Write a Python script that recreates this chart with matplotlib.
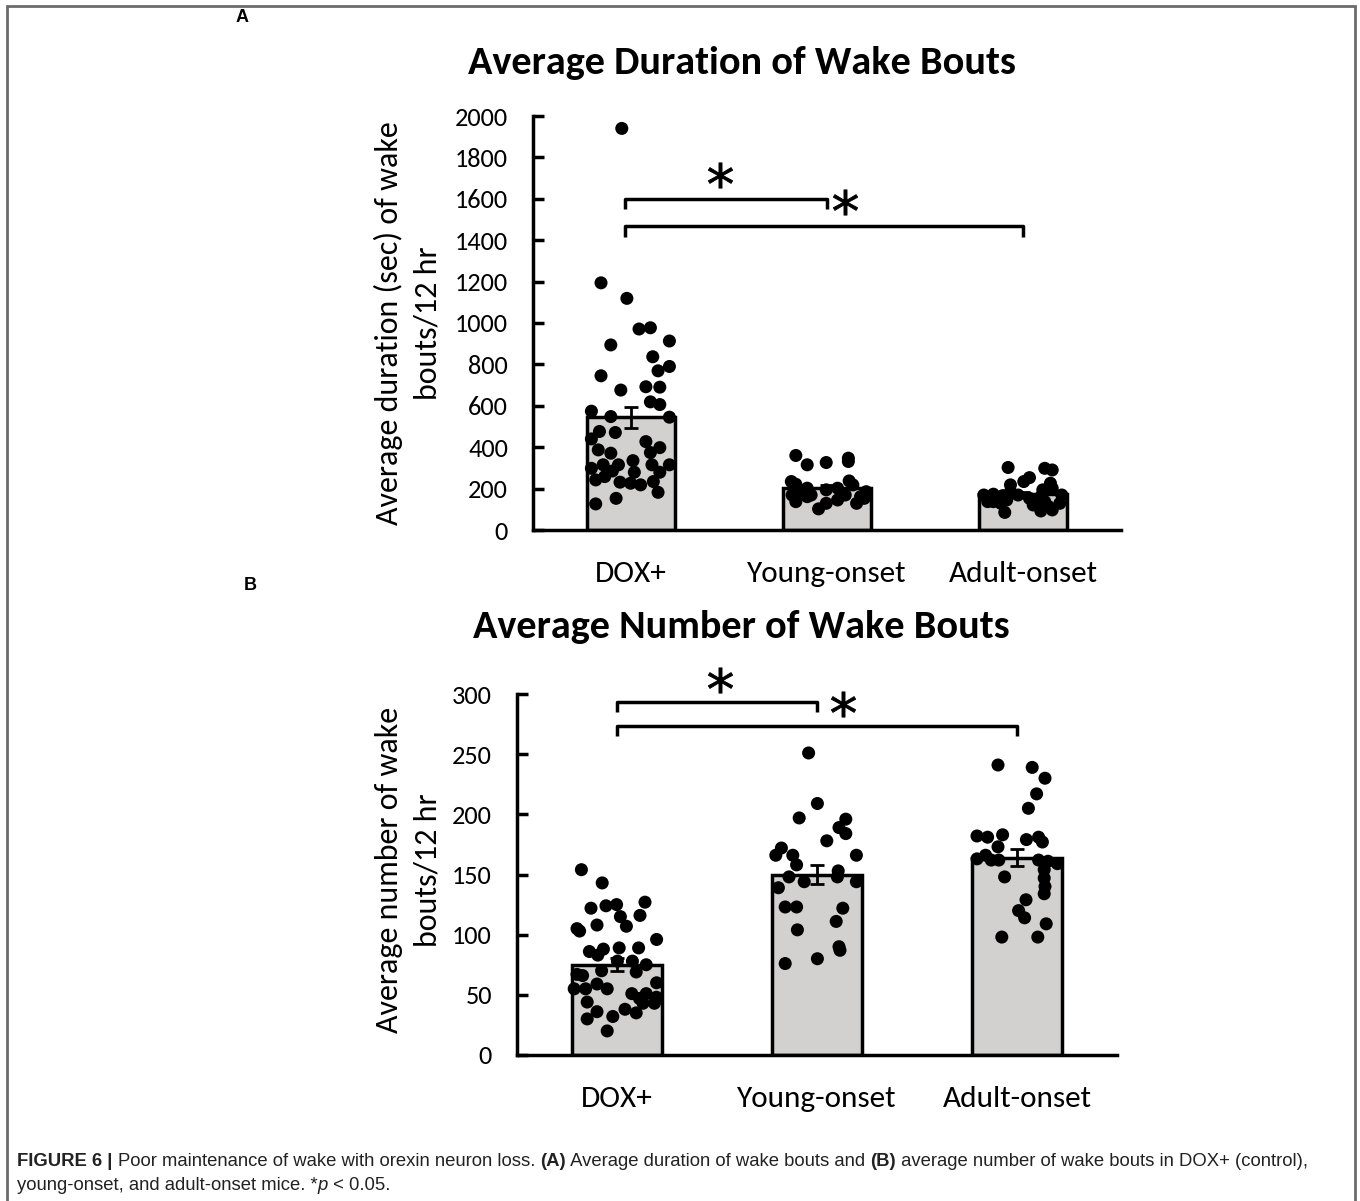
"""Bar + dot plots of wake bout duration and number (Figure 6 style)."""

import matplotlib
matplotlib.use("Agg")
import matplotlib.pyplot as plt
from matplotlib import font_manager
from matplotlib.patches import Rectangle

groups = ["DOX+", "Young-onset", "Adult-onset"]

# panel A: average duration (sec) of wake bouts / 12 hr
dur_mean = [545, 205, 175]
dur_err = [50, 12, 10]
dur_dox = [1940, 1194, 1119, 971, 977, 894, 913, 837, 769, 790, 745, 676, 692,
           690, 619, 606, 574, 548, 545, 476, 471, 440, 427, 387, 398, 371,
           374, 315, 315, 335, 315, 315, 298, 285, 279, 279, 258, 242, 231,
           226, 218, 234, 182, 153, 126]
dur_dox_dx = [-0.047, -0.153, -0.021, 0.041, 0.099, -0.103, 0.196, 0.111,
              0.138, 0.196, -0.153, -0.052, 0.076, 0.147, 0.099, 0.147,
              -0.202, -0.103, 0.196, -0.161, -0.080, -0.202, 0.076, -0.167,
              0.147, -0.103, 0.099, -0.142, -0.064, 0.010, 0.107, 0.196,
              -0.202, -0.095, 0.017, 0.147, -0.134, -0.180, -0.056, -0.002,
              0.049, 0.114, 0.138, -0.076, -0.180]
dur_young = [360, 315, 326, 347, 331, 234, 221, 202, 237, 218, 185, 194, 202,
             185, 169, 169, 169, 161, 137, 145, 129, 129, 102, 161, 153]
dur_young_dx = [-0.159, -0.101, -0.004, 0.109, 0.109, -0.182, -0.159, -0.101,
                0.113, 0.132, -0.140, -0.004, 0.054, 0.200, -0.178, -0.081,
                0.093, 0.171, -0.159, 0.054, -0.004, 0.151, -0.043, -0.101,
                0.190]
dur_adult = [302, 298, 290, 253, 234, 218, 226, 169, 173, 166, 185, 194, 202,
             137, 145, 153, 161, 169, 85, 92, 113, 129, 169, 121, 137, 97,
             129, 137]
dur_adult_dx = [-0.076, 0.111, 0.149, 0.033, 0.004, -0.064, 0.140, -0.200,
                -0.151, -0.103, -0.064, 0.101, 0.149, -0.180, -0.083, 0.033,
                0.091, 0.198, -0.093, 0.091, 0.130, 0.188, -0.025, 0.052,
                0.111, 0.149, -0.113, -0.151]

# panel B: average number of wake bouts / 12 hr
num_mean = [75, 150, 164]
num_err = [5.5, 8, 7]
num_dox = [154, 143, 122, 124, 125, 127, 115, 116, 107, 108, 105, 103, 96, 86,
           88, 89, 89, 83, 78, 78, 75, 69, 70, 67, 66, 55, 55, 59, 55, 60, 51,
           51, 47, 43, 44, 38, 35, 36, 32, 30, 20, 43, 48]
num_dox_dx = [-0.178, -0.074, -0.130, -0.055, -0.002, 0.140, 0.017, 0.115,
              0.047, -0.100, -0.200, -0.187, 0.198, -0.138, -0.068, 0.011,
              0.108, -0.096, 0.002, 0.077, 0.146, 0.096, -0.077, -0.200,
              -0.172, -0.214, -0.157, -0.100, -0.049, 0.198, 0.074, 0.146,
              0.112, 0.187, -0.149, 0.040, 0.096, -0.100, -0.021, -0.149,
              -0.049, 0.130, 0.197]
num_young = [251, 209, 197, 196, 189, 184, 178, 172, 166, 166, 166, 158, 148,
             144, 153, 148, 144, 139, 123, 123, 122, 111, 104, 90, 87, 76, 80]
num_young_dx = [-0.042, 0.002, -0.089, 0.144, 0.110, 0.144, 0.049, -0.178,
                -0.206, -0.121, 0.197, -0.102, -0.140, -0.064, 0.106, 0.102,
                0.197, -0.193, -0.159, -0.102, 0.129, 0.096, -0.098, 0.110,
                0.115, -0.159, 0.002]
num_adult = [241, 239, 230, 217, 205, 182, 181, 183, 179, 181, 177, 173, 166,
             162, 162, 161, 159, 154, 148, 147, 140, 134, 129, 120, 114, 109,
             98, 98, 163, 162]
num_adult_dx = [-0.095, 0.076, 0.140, 0.098, 0.057, -0.200, -0.147, -0.072,
                0.047, 0.108, 0.127, -0.095, -0.157, -0.091, 0.108, 0.155,
                0.202, 0.136, -0.062, 0.136, 0.140, 0.136, 0.045, 0.008,
                0.038, 0.146, -0.076, 0.104, -0.200, -0.129]

_names = {f.name for f in font_manager.fontManager.ttflist}
FONT = "Carlito" if "Carlito" in _names else "Lato"
CAP_FONT = "Liberation Sans Narrow" if "Liberation Sans Narrow" in _names else "Liberation Sans"

BAR_COLOR = "#d3d0d0"
W, H = 1360, 1201


def draw_panel(ax, means, errs, points, ymax, ystep, brackets, stars):
    x = range(len(groups))
    ax.bar(x, means, width=0.45, color=BAR_COLOR, edgecolor="black",
           linewidth=2.5, zorder=1)
    for i, (vals, dx) in enumerate(points):
        ax.scatter([i + d for d in dx], vals, s=88, color="black",
                   edgecolors="none", zorder=3, clip_on=False)
    ax.errorbar(x, means, yerr=errs, fmt="none", ecolor="black",
                elinewidth=2, capsize=5, capthick=2, zorder=4)
    ax.set_xlim(-0.5, 2.5)
    ax.set_ylim(0, ymax)
    ax.set_yticks(range(0, ymax + 1, ystep))
    ax.set_xticks(list(x))
    ax.set_xticklabels(groups, fontsize=22.5, fontfamily=FONT)
    for lbl in ax.get_yticklabels():
        lbl.set_fontsize(19)
        lbl.set_fontfamily(FONT)
    ax.tick_params(axis="x", length=0, pad=22)
    ax.tick_params(axis="y", direction="in", length=8, width=2.5, pad=18)
    for side in ("top", "right"):
        ax.spines[side].set_visible(False)
    for side in ("left", "bottom"):
        ax.spines[side].set_linewidth(2.5)
    for x0, x1, yb, h in brackets:
        ax.plot([x0, x0, x1, x1], [yb - h, yb, yb, yb - h], color="black",
                linewidth=2.5, solid_capstyle="butt", zorder=2, clip_on=False)
    sx, sy = zip(*stars)
    ax.scatter(sx, sy, marker="$*$", s=330, color="black", linewidths=0.6,
               zorder=5, clip_on=False)


fig = plt.figure(figsize=(13.6, 12.01), dpi=100)

ax_a = fig.add_axes([533 / W, 1 - 530 / H, 588 / W, 414 / H])
draw_panel(ax_a, dur_mean, dur_err,
           [(dur_dox, dur_dox_dx), (dur_young, dur_young_dx),
            (dur_adult, dur_adult_dx)],
           2000, 200,
           [(-0.03, 1.0, 1600, 50), (-0.03, 2.0, 1470, 55)],
           [(0.454, 1717), (1.092, 1584)])

ax_b = fig.add_axes([517 / W, 1 - 1055 / H, 600 / W, 361 / H])
draw_panel(ax_b, num_mean, num_err,
           [(num_dox, num_dox_dx), (num_young, num_young_dx),
            (num_adult, num_adult_dx)],
           300, 50,
           [(0.0, 1.0, 293, 8), (0.0, 2.0, 273, 8)],
           [(0.515, 312), (1.13, 292)])

# titles and y labels placed in figure pixels
fig.text(742 / W, 1 - 63 / H, "Average Duration of Wake Bouts", fontsize=29,
         fontweight="bold", fontfamily=FONT, ha="center", va="center")
fig.text(741 / W, 1 - 627 / H, "Average Number of Wake Bouts", fontsize=29,
         fontweight="bold", fontfamily=FONT, ha="center", va="center")
fig.text(408 / W, 1 - 323 / H, "Average duration (sec) of wake\nbouts/12 hr",
         fontsize=23, fontfamily=FONT, rotation=90, ha="center", va="center",
         linespacing=1.45)
fig.text(408 / W, 1 - 870 / H, "Average number of wake\nbouts/12 hr",
         fontsize=23, fontfamily=FONT, rotation=90, ha="center", va="center",
         linespacing=1.45)

# panel letters
fig.text(242 / W, 1 - 18 / H, "A", fontsize=13, fontweight="bold",
         fontfamily="Liberation Sans", ha="center", va="center")
fig.text(250 / W, 1 - 585 / H, "B", fontsize=13, fontweight="bold",
         fontfamily="Liberation Sans", ha="center", va="center")

# frame around the figure
fig.patches.append(Rectangle((7 / W, -0.01), 1348 / W, 1 - 6 / H + 0.01,
                             transform=fig.transFigure, fill=False,
                             edgecolor="#6b6b6b", linewidth=2))

# caption with mixed bold runs
caption = [
    [("FIGURE 6 | ", "bold"), ("Poor maintenance of wake with orexin neuron loss. ", "normal"),
     ("(A)", "bold"), (" Average duration of wake bouts and ", "normal"), ("(B)", "bold"),
     (" average number of wake bouts in DOX+ (control),", "normal")],
    [("young-onset, and adult-onset mice. *", "normal"), ("p", "italic"),
     (" < 0.05.", "normal")],
]
renderer = fig.canvas.get_renderer()
for row, ypix in zip(caption, (1162, 1186)):
    xpix = 17
    for txt, style in row:
        t = fig.text(xpix / W, 1 - ypix / H, txt, fontsize=13.3,
                     fontfamily=CAP_FONT, va="center", ha="left",
                     fontweight="bold" if style == "bold" else "normal",
                     fontstyle="italic" if style == "italic" else "normal",
                     color="#222222")
        xpix += t.get_window_extent(renderer).width

fig.savefig("out.png", dpi=100)
